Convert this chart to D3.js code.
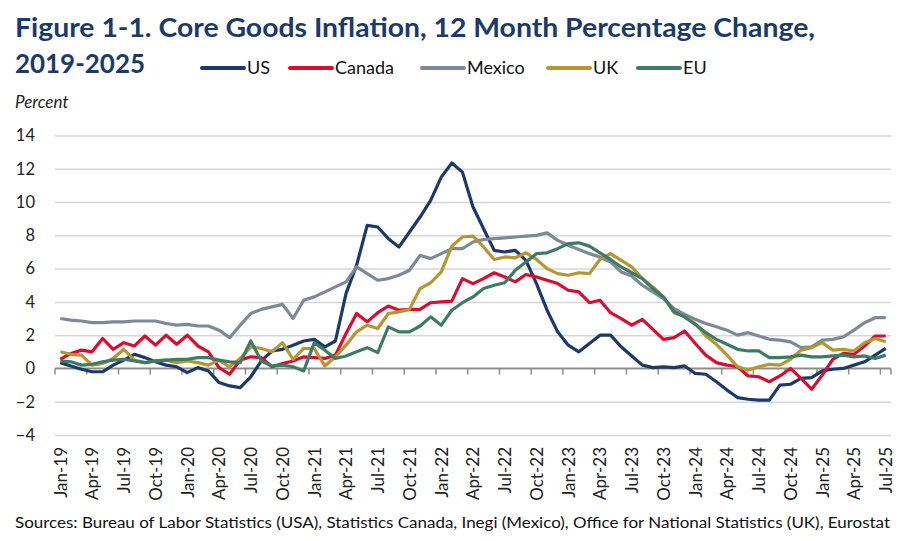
<!DOCTYPE html>
<html>
<head>
<meta charset="utf-8">
<script src="https://cdn.jsdelivr.net/npm/d3@7"></script>
<style>
  body { margin: 0; background: #fff; }
  svg { display: block; font-family: Lato, "Noto Sans", sans-serif; }
</style>
</head>
<body>
<svg id="chart" width="901" height="541"></svg>
<script>
// monthly, Jan-2019 .. Jul-2025
const monthNames = ['Jan','Feb','Mar','Apr','May','Jun','Jul','Aug','Sep','Oct','Nov','Dec'];
const months = d3.range(79).map(i => `${monthNames[i % 12]}-${19 + Math.floor(i / 12)}`);

const usValues = [
  0.35, 0.15, -0.05, -0.2, -0.2, 0.2, 0.5, 0.85, 0.65, 0.4, 0.2, 0.1,
  -0.25, 0.05, -0.15, -0.85, -1.05, -1.15, -0.5, 0.45, 1.05, 1.15, 1.4, 1.65,
  1.75, 1.3, 1.65, 4.5, 6.2, 8.6, 8.5, 7.8, 7.3, 8.2, 9.1, 10.1,
  11.5, 12.35, 11.8, 9.7, 8.4, 7.1, 7.0, 7.1, 6.5, 5.1, 3.5, 2.2,
  1.4, 1.0, 1.5, 2.0, 2.0, 1.3, 0.75, 0.2, 0.05, 0.1, 0.05, 0.15,
  -0.3, -0.35, -0.8, -1.3, -1.75, -1.85, -1.9, -1.9, -1.0, -0.95, -0.6, -0.55,
  -0.15, -0.05, 0.0, 0.2, 0.4, 0.8, 1.2
];
const canadaValues = [
  0.55, 0.9, 1.1, 1.0, 1.8, 1.15, 1.55, 1.35, 1.95, 1.4, 2.0, 1.45,
  2.0, 1.35, 1.0, 0.05, -0.35, 0.5, 0.7, 0.65, 0.1, 0.3, 0.45, 0.7,
  0.65, 0.6, 0.8, 2.1, 3.3, 2.8, 3.35, 3.75, 3.5, 3.55, 3.55, 3.95,
  4.0, 4.05, 5.4, 5.1, 5.4, 5.75, 5.5, 5.2, 5.65, 5.5, 5.3, 5.1,
  4.7, 4.6, 3.95, 4.1, 3.35, 3.0, 2.6, 2.95, 2.35, 1.75, 1.85, 2.25,
  1.5, 0.8, 0.35, 0.2, 0.1, -0.45, -0.5, -0.8, -0.45, 0.0, -0.6, -1.25,
  -0.4, 0.55, 0.9, 0.85, 1.35, 1.95, 1.95
];
const mexicoValues = [
  3.0, 2.9, 2.85, 2.75, 2.75, 2.8, 2.8, 2.85, 2.85, 2.85, 2.7, 2.6,
  2.65, 2.55, 2.55, 2.3, 1.85, 2.6, 3.3, 3.55, 3.7, 3.85, 3.0, 4.1,
  4.3, 4.6, 4.9, 5.2, 6.1, 5.7, 5.3, 5.4, 5.6, 5.9, 6.8, 6.6,
  6.9, 7.2, 7.2, 7.6, 7.75, 7.8, 7.85, 7.9, 7.95, 8.0, 8.15, 7.7,
  7.4, 7.15, 6.9, 6.7, 6.4, 5.8, 5.55, 5.0, 4.6, 4.2, 3.6, 3.25,
  2.95, 2.7, 2.5, 2.3, 2.0, 2.15, 1.95, 1.75, 1.7, 1.6, 1.25, 1.3,
  1.7, 1.75, 1.9, 2.3, 2.75, 3.05, 3.05
];
const ukValues = [
  1.0, 0.85, 0.8, 0.2, 0.3, 0.6, 1.15, 0.5, 0.35, 0.45, 0.5, 0.35,
  0.45, 0.35, 0.2, 0.5, 0.1, 0.6, 1.3, 1.2, 1.0, 1.55, 0.55, 1.2,
  1.2, 0.15, 0.7, 1.4, 2.2, 2.6, 2.4, 3.3, 3.4, 3.55, 4.8, 5.15,
  5.8, 7.35, 7.9, 7.95, 7.3, 6.55, 6.7, 6.65, 6.95, 6.55, 6.0, 5.7,
  5.6, 5.75, 5.7, 6.55, 6.9, 6.5, 6.1, 5.4, 4.9, 4.3, 3.35, 3.1,
  2.7, 1.95, 1.45, 0.8, 0.1, -0.1, 0.1, 0.25, 0.2, 0.55, 1.1, 1.25,
  1.55, 1.1, 1.15, 1.05, 1.55, 1.8, 1.6
];
const euValues = [
  0.45, 0.4, 0.2, 0.25, 0.4, 0.5, 0.55, 0.45, 0.35, 0.45, 0.5, 0.55,
  0.55, 0.65, 0.65, 0.5, 0.4, 0.35, 1.65, 0.45, 0.15, 0.2, 0.1, -0.15,
  1.55, 1.1, 0.6, 0.75, 1.0, 1.25, 0.95, 2.5, 2.2, 2.2, 2.55, 3.1,
  2.6, 3.5, 3.95, 4.3, 4.8, 5.0, 5.15, 5.9, 6.4, 6.9, 6.95, 7.2,
  7.5, 7.55, 7.35, 6.95, 6.55, 6.1, 5.75, 5.4, 4.8, 4.3, 3.4, 3.1,
  2.65, 2.15, 1.75, 1.45, 1.15, 1.05, 1.05, 0.65, 0.65, 0.7, 0.8, 0.7,
  0.7, 0.75, 0.8, 0.7, 0.75, 0.6, 0.8
];

const seriesNames = ['US', 'Canada', 'Mexico', 'UK', 'EU'];
const seriesColors = ['#1b3a6b', '#d90d32', '#7d8898', '#b6962f', '#3d7b67'];
const seriesValues = [usValues, canadaValues, mexicoValues, ukValues, euValues];
const yTicks = [-4, -2, 0, 2, 4, 6, 8, 10, 12, 14];
const xLabels = months.filter((m, i) => i % 3 === 0);

const svg = d3.select('#chart');
const plot = { left: 55, right: 891, top: 135.5, bottom: 435 };

const x = d3.scalePoint().domain(months).range([plot.left, plot.right]).padding(0.5);
const xBand = d3.scaleBand().domain(months).range([plot.left, plot.right]);
const y = d3.scaleLinear().domain([-4, 14]).range([plot.bottom, plot.top]);

// title
const title = svg.append('g').attr('fill', '#1b3a6b').attr('font-weight', 700).attr('font-size', 26);
title.append('text').attr('x', 15).attr('y', 37)
  .attr('textLength', 800).attr('lengthAdjust', 'spacingAndGlyphs')
  .text('Figure 1-1. Core Goods Inflation, 12 Month Percentage Change,');
title.append('text').attr('x', 15).attr('y', 73)
  .attr('textLength', 130).attr('lengthAdjust', 'spacingAndGlyphs')
  .text('2019-2025');

// legend
const legendX = [202, 290, 422, 548, 638];
const legend = svg.append('g').selectAll('g')
  .data(seriesNames)
  .join('g')
  .attr('transform', (d, i) => `translate(${legendX[i]},68)`);
legend.append('line')
  .attr('x1', 0).attr('x2', 42)
  .attr('stroke', (d, i) => seriesColors[i])
  .attr('stroke-width', 4).attr('stroke-linecap', 'round');
legend.append('text')
  .attr('x', 45).attr('dy', '0.36em')
  .attr('font-size', 18).attr('fill', '#111')
  .text(d => d);

svg.append('text').attr('x', 15).attr('y', 108)
  .attr('font-size', 17).attr('font-style', 'italic').attr('fill', '#222')
  .text('Percent');

// gridlines
svg.append('g')
  .attr('transform', `translate(${plot.left},0)`)
  .call(d3.axisLeft(y).tickValues(yTicks).tickSize(-(plot.right - plot.left)).tickFormat(''))
  .call(g => g.select('.domain').remove())
  .call(g => g.selectAll('.tick line').attr('stroke', '#d6d6d6').attr('stroke-width', 1.5));

// y labels
svg.append('g')
  .attr('transform', `translate(${plot.left},0)`)
  .call(d3.axisLeft(y).tickValues(yTicks).tickSize(0).tickPadding(20))
  .call(g => g.select('.domain').remove())
  .call(g => g.selectAll('.tick text').attr('font-size', 16.5).attr('fill', '#222').attr('font-family', 'Lato, sans-serif'));

// zero axis with tick marks at quarter boundaries
const zeroAxis = svg.append('g');
zeroAxis.append('line')
  .attr('x1', plot.left).attr('x2', plot.right)
  .attr('y1', y(0)).attr('y2', y(0))
  .attr('stroke', '#8c8c8c').attr('stroke-width', 1.8);
zeroAxis.selectAll('line.tick')
  .data(xLabels.concat(['end']))
  .join('line')
  .attr('class', 'tick')
  .attr('x1', d => d === 'end' ? plot.right : xBand(d))
  .attr('x2', d => d === 'end' ? plot.right : xBand(d))
  .attr('y1', y(0)).attr('y2', y(0) + 6)
  .attr('stroke', '#8c8c8c').attr('stroke-width', 1.5);

// x labels
svg.append('g')
  .attr('transform', 'translate(0,447)')
  .call(d3.axisBottom(x).tickValues(xLabels).tickSize(0))
  .call(g => g.select('.domain').remove())
  .call(g => g.selectAll('.tick text')
    .attr('font-size', 17).attr('fill', '#222').attr('font-family', 'Lato, sans-serif')
    .attr('text-anchor', 'end')
    .attr('transform', 'rotate(-90)')
    .attr('x', 0).attr('y', 0).attr('dy', '0.35em'));

// lines
const line = d3.line()
  .x((d, i) => x(months[i]))
  .y(d => y(d));

svg.append('g').selectAll('path')
  .data(seriesValues)
  .join('path')
  .attr('d', line)
  .attr('fill', 'none')
  .attr('stroke', (d, i) => seriesColors[i])
  .attr('stroke-width', 3.2)
  .attr('stroke-linejoin', 'round');

// source
svg.append('text').attr('x', 15).attr('y', 528)
  .attr('font-size', 15.5).attr('fill', '#111')
  .attr('textLength', 875).attr('lengthAdjust', 'spacingAndGlyphs')
  .text('Sources: Bureau of Labor Statistics (USA), Statistics Canada, Inegi (Mexico), Office for National Statistics (UK), Eurostat');
</script>
</body>
</html>
